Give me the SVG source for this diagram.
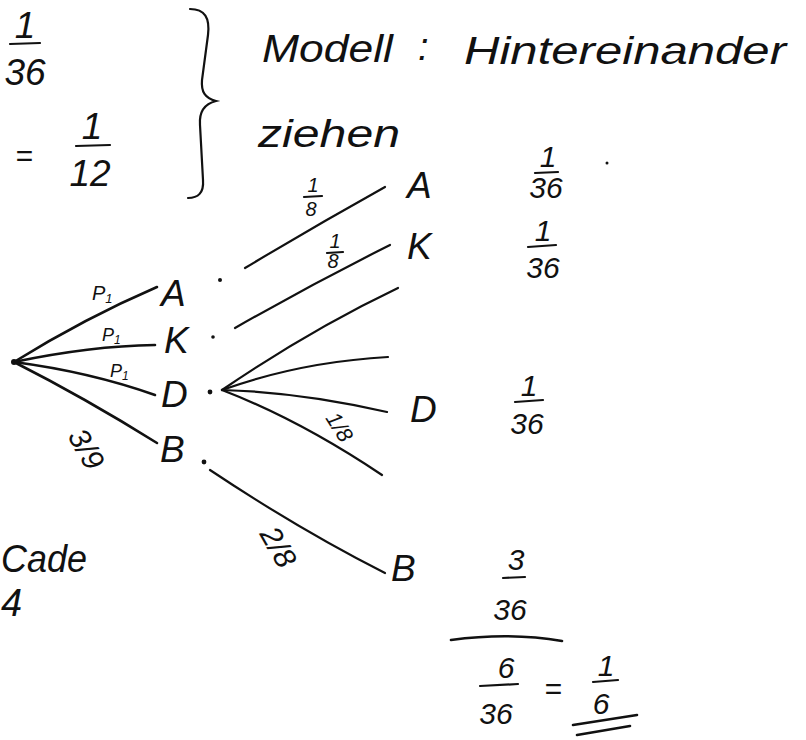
<svg xmlns="http://www.w3.org/2000/svg" width="806" height="740" viewBox="0 0 806 740">
<style>
text{font-family:"Liberation Sans","DejaVu Sans",sans-serif;font-style:italic;fill:#111}
.n{font-size:37px}
.f{font-size:30px;text-anchor:middle}
.L{font-size:37px;text-anchor:middle}
.s{font-size:20px;text-anchor:middle}
.w{font-size:38px}
.e{fill:none;stroke:#111;stroke-width:2.6;stroke-linecap:round}
.b{fill:none;stroke:#111;stroke-width:2.2;stroke-linecap:round}
.d{fill:#111}
</style>
<rect width="806" height="740" fill="#fff"/>
<g id="notes">
<text class="L" x="25" y="38">1</text>
<path class="b" d="M10,44 L40,43"/>
<text class="L" x="25" y="85">36</text>
<text class="f" x="24" y="166">=</text>
<text class="L" x="92" y="139">1</text>
<path class="b" d="M76,146 L110,145"/>
<text class="L" x="90" y="186">12</text>
<path class="b" d="M190,9 C205,9 210,18 208,35 L202,80 C201,92 205,98 216,101 C204,104 199,112 200,125 L203,180 C204,193 198,198 188,198"/>
<text class="w" x="262" y="62" textLength="131" lengthAdjust="spacingAndGlyphs">Modell</text>
<text class="w" x="418" y="60">:</text>
<text class="w" x="464" y="64" textLength="322" lengthAdjust="spacingAndGlyphs">Hintereinander</text>
<text class="w" x="258" y="147" textLength="142" lengthAdjust="spacingAndGlyphs">ziehen</text>
<text class="w" x="1" y="572" textLength="86" lengthAdjust="spacingAndGlyphs">Cade</text>
<text class="w" x="1" y="616" font-size="30">4</text>
</g>
<g id="connectors">
<path class="e" d="M14,362 Q85,318 157,287"/>
<path class="e" d="M14,362 Q90,346 155,345"/>
<path class="e" d="M14,362 Q90,372 155,395"/>
<path class="e" d="M14,362 Q85,398 157,443"/>
<path class="b" d="M245,268 Q315,226 385,187"/>
<path class="b" d="M235,328 Q312,284 390,245"/>
<path class="b" d="M222,390 Q310,330 398,288"/>
<path class="b" d="M222,390 Q300,362 388,357"/>
<path class="b" d="M222,390 Q300,392 387,412"/>
<path class="b" d="M222,390 Q300,420 382,475"/>
<path class="b" d="M210,470 Q300,530 385,573"/>
</g>
<g id="labels">
<text x="92" y="300" font-size="20">P<tspan font-size="13" dy="3">1</tspan></text>
<text x="102" y="341" font-size="18">P<tspan font-size="12" dy="3">1</tspan></text>
<text x="110" y="377" font-size="18">P<tspan font-size="12" dy="3">1</tspan></text>
<text x="67" y="436" font-size="30" transform="rotate(60 67 436)">3/9</text>
<text class="s" x="313" y="192">1</text>
<path class="b" d="M304,197 L322,196" stroke-width="1.6"/>
<text class="s" x="311" y="216">8</text>
<text class="s" x="335" y="248" font-size="16">1</text>
<path class="b" d="M327,253 L343,252" stroke-width="1.6"/>
<text class="s" x="333" y="268" font-size="18">8</text>
<text x="325" y="418" font-size="22" transform="rotate(58 325 418)">1/8</text>
<text x="259" y="534" font-size="30" transform="rotate(60 259 534)">2/8</text>
</g>
<g id="root"><circle class="d" cx="14" cy="362" r="3"/></g>
<g id="A1"><text class="n" x="161" y="306">A</text><circle class="d" cx="220" cy="280" r="2"/></g>
<g id="K1"><text class="n" x="164" y="353">K</text><circle class="d" cx="213" cy="337" r="1.8"/></g>
<g id="D1"><text class="n" x="161" y="407">D</text><circle class="d" cx="210" cy="392" r="2.4"/></g>
<g id="B1"><text class="n" x="160" y="462">B</text><circle class="d" cx="204" cy="462" r="2.4"/></g>
<g id="A2"><text class="n" x="407" y="198">A</text></g>
<g id="K2"><text class="n" x="407" y="259">K</text></g>
<g id="D2"><text class="n" x="410" y="422">D</text></g>
<g id="B2"><text class="n" x="391" y="581">B</text></g>
<g id="results">
<text class="f" x="548" y="167">1</text>
<path class="b" d="M535,173 L558,172"/>
<text class="f" x="546" y="198">36</text>
<circle class="d" cx="607" cy="163" r="1.5"/>
<text class="f" x="543" y="241">1</text>
<path class="b" d="M528,247 L556,245"/>
<text class="f" x="543" y="278">36</text>
<text class="f" x="529" y="396">1</text>
<path class="b" d="M515,402 L543,400"/>
<text class="f" x="527" y="434">36</text>
<text class="f" x="516" y="570">3</text>
<path class="b" d="M503,578 L525,577"/>
<text class="f" x="510" y="620">36</text>
<path class="e" d="M451,640 Q510,632 562,641"/>
<text class="f" x="506" y="678">6</text>
<path class="b" d="M480,686 L518,684"/>
<text class="f" x="496" y="724">36</text>
<text class="f" x="553" y="699">=</text>
<text class="f" x="606" y="676">1</text>
<path class="b" d="M593,682 L618,680"/>
<text class="f" x="601" y="714">6</text>
<path class="e" d="M573,725 L637,715"/>
<path class="e" d="M577,735 L630,726"/>
</g>
</svg>
